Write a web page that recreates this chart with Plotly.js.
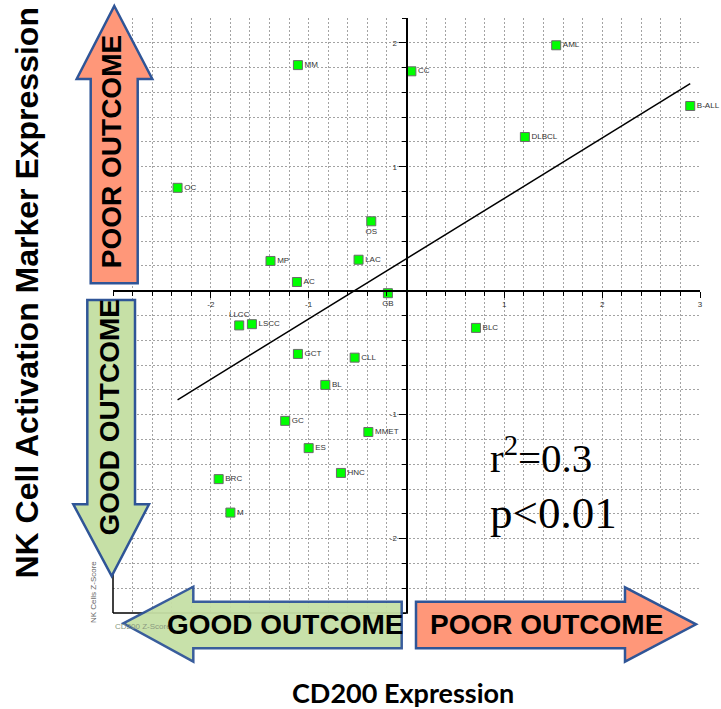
<!DOCTYPE html>
<html>
<head>
<meta charset="utf-8">
<script src="https://cdn.plot.ly/plotly-3.0.1.min.js"></script>
<style>html,body{margin:0;padding:0;background:#fff;}#chart{width:721px;height:709px;}</style>
</head>
<body>
<div id="chart"></div>
<script>
// ---- data ----
const categories = ['MM','CC','OC','OS','MP','LAC','AC','GB','AML','B-ALL','DLBCL','LLCC','LSCC','GCT','CLL','BL','GC','MMET','ES','HNC','BRC','M','BLC'];
const cd200Z = [-1.11, 0.05, -2.34, -0.36, -1.39, -0.49, -1.12, -0.19, 1.53, 2.90, 1.21, -1.71, -1.58, -1.11, -0.53, -0.83, -1.24, -0.39, -1.00, -0.67, -1.92, -1.80, 0.71];
const nkZ    = [1.82, 1.77, 0.83, 0.56, 0.24, 0.25, 0.07, -0.02, 1.98, 1.49, 1.24, -0.28, -0.27, -0.51, -0.54, -0.76, -1.05, -1.14, -1.27, -1.47, -1.52, -1.79, -0.30];
const labelPos = ['middle right','middle right','middle right','bottom center','middle right','middle right','middle right','bottom center','middle right','middle right','middle right','top center','middle right','middle right','middle right','middle right','middle right','middle right','middle right','middle right','middle right','middle right','middle right'];
const fitX = [-2.34, 2.90];
const fitY = [-0.88, 1.67];
const xTickVals = [-2, -1, 1, 2, 3];
const xTickText = ['-2', '-1', '1', '2', '3'];
const yTickVals = [-2, -1, 1, 2];
const yTickText = ['-2', '-1', '1', '2'];
const xRange = [-3, 3];
const yRange = [-2.6, 2.2];

// ---- layout geometry (pixels) ----
const W = 721, Hh = 709;
const L = 113, R = 21, T = 18, B = 96;
const PW = W - L - R, PH = Hh - T - B;
const px = x => (x - L) / PW;
const py = y => (T + PH - y) / PH;
const path = pts => pts.map((p, i) => (i ? 'L' : 'M') + px(p[0]).toFixed(5) + ',' + py(p[1]).toFixed(5)).join(' ') + ' Z';

const orange = '#FF9779', green = '#C6E0A6', stroke = '#2F5597';

const upArrow = [[114.3,6],[152.3,79],[137.7,79],[137.7,283.3],[90.7,283.3],[90.7,79],[76.7,79]];
const downArrow = [[87.3,300],[135,300],[135,504.3],[149,504.3],[111.7,576],[73.3,504.3],[87.3,504.3]];
const leftArrow = [[123.3,623.3],[193.3,586.7],[193.3,601.7],[401.7,601.7],[401.7,648.3],[193.3,648.3],[193.3,661.7]];
const rightArrow = [[416,601.7],[625,601.7],[625,587.3],[696,624.3],[625,661.7],[625,648.3],[416,648.3]];

const xFree = (0 - yRange[0]) / (yRange[1] - yRange[0]);
const yFree = (0 - xRange[0]) / (xRange[1] - xRange[0]);

const traces = [
  {
    x: fitX, y: fitY, mode: 'lines', type: 'scatter',
    line: {color: '#000', width: 1.5}, hoverinfo: 'skip', showlegend: false
  },
  {
    x: cd200Z, y: nkZ, text: categories, mode: 'markers+text', type: 'scatter',
    textposition: labelPos, cliponaxis: false,
    textfont: {family: 'Liberation Sans, Arial, sans-serif', size: 8, color: '#333'},
    marker: {symbol: 'square', size: 9, color: '#00FF00', line: {color: '#6b6b6b', width: 1}},
    showlegend: false
  }
];

const minorCommon = {tickmode: 'linear', tick0: 0, dtick: 0.2, ticks: 'outside', ticklen: 4, tickcolor: '#000', showgrid: true, gridcolor: '#a3a3a3', griddash: '2px,2px', gridwidth: 1};

const layout = {
  width: W, height: Hh,
  margin: {l: L, r: R, t: T, b: B, pad: 0},
  paper_bgcolor: '#fff', plot_bgcolor: '#fff',
  showlegend: false,
  font: {family: 'Liberation Sans, Arial, sans-serif', size: 8, color: '#333'},
  xaxis: {
    range: xRange, anchor: 'free', position: xFree,
    tickmode: 'array', tickvals: xTickVals, ticktext: xTickText,
    ticks: 'outside', ticklen: 6, tickwidth: 1, tickcolor: '#000',
    showline: true, linecolor: '#000', linewidth: 2, zeroline: false,
    showgrid: true, gridcolor: '#a3a3a3', gridwidth: 1, griddash: '2px,2px',
    tickfont: {size: 8, color: '#333'},
    minor: minorCommon
  },
  yaxis: {
    range: yRange, anchor: 'free', position: yFree,
    tickmode: 'array', tickvals: yTickVals, ticktext: yTickText,
    ticks: 'outside', ticklen: 7, tickwidth: 1, tickcolor: '#000',
    showline: true, linecolor: '#000', linewidth: 2, zeroline: false,
    showgrid: true, gridcolor: '#a3a3a3', gridwidth: 1, griddash: '2px,2px',
    tickfont: {size: 8, color: '#333'},
    minor: minorCommon
  },
  shapes: [
    {type: 'line', xref: 'paper', yref: 'paper', x0: px(113), y0: py(533), x1: px(113), y1: py(613), line: {color: '#000', width: 1.5}},
    {type: 'line', xref: 'paper', yref: 'paper', x0: px(113), y0: py(613), x1: px(408), y1: py(613), line: {color: '#000', width: 1.5}},
    {type: 'path', xref: 'paper', yref: 'paper', path: path(upArrow), fillcolor: orange, line: {color: stroke, width: 2.5}, layer: 'above'},
    {type: 'path', xref: 'paper', yref: 'paper', path: path(downArrow), fillcolor: green, line: {color: stroke, width: 2.5}, layer: 'above'},
    {type: 'path', xref: 'paper', yref: 'paper', path: path(leftArrow), fillcolor: green, line: {color: stroke, width: 2.5}, layer: 'above', opacity: 0.95},
    {type: 'path', xref: 'paper', yref: 'paper', path: path(rightArrow), fillcolor: orange, line: {color: stroke, width: 2.5}, layer: 'above'}
  ],
  annotations: [
    {xref: 'paper', yref: 'paper', x: px(26.5), y: py(293), text: '<b>NK Cell Activation Marker Expression</b>', textangle: -90, showarrow: false, xanchor: 'center', yanchor: 'middle', font: {family: 'Liberation Sans, Arial, sans-serif', size: 32, color: '#000'}},
    {xref: 'paper', yref: 'paper', x: px(403), y: py(692), text: '<b>CD200 Expression</b>', showarrow: false, xanchor: 'center', yanchor: 'middle', font: {family: 'Lato, Open Sans, sans-serif', size: 27, color: '#000'}},
    {xref: 'paper', yref: 'paper', x: px(93), y: py(592), text: 'NK Cells Z-Score', textangle: -90, showarrow: false, xanchor: 'center', yanchor: 'middle', font: {size: 8, color: '#666'}},
    {xref: 'paper', yref: 'paper', x: px(143), y: py(626), text: 'CD200 Z-Score', showarrow: false, xanchor: 'center', yanchor: 'middle', font: {size: 8, color: '#8a9a80'}},
    {xref: 'paper', yref: 'paper', x: px(111.2), y: py(152), text: '<b>POOR OUTCOME</b>', textangle: -90, showarrow: false, xanchor: 'center', yanchor: 'middle', font: {family: 'Liberation Sans, Arial, sans-serif', size: 28, color: '#000'}},
    {xref: 'paper', yref: 'paper', x: px(108.5), y: py(418), text: '<b>GOOD OUTCOME</b>', textangle: -90, showarrow: false, xanchor: 'center', yanchor: 'middle', font: {family: 'Liberation Sans, Arial, sans-serif', size: 28, color: '#000'}},
    {xref: 'paper', yref: 'paper', x: px(285), y: py(624), text: '<b>GOOD OUTCOME</b>', showarrow: false, xanchor: 'center', yanchor: 'middle', font: {family: 'Liberation Sans, Arial, sans-serif', size: 28, color: '#000'}},
    {xref: 'paper', yref: 'paper', x: px(546), y: py(624), text: '<b>POOR OUTCOME</b>', showarrow: false, xanchor: 'center', yanchor: 'middle', font: {family: 'Liberation Sans, Arial, sans-serif', size: 28, color: '#000'}},
    {xref: 'paper', yref: 'paper', x: px(488), y: py(455), text: 'r<sup>2</sup>=0.3', showarrow: false, xanchor: 'left', yanchor: 'middle', font: {family: 'Liberation Serif, Times New Roman, serif', size: 41, color: '#000'}},
    {xref: 'paper', yref: 'paper', x: px(488), y: py(513), text: 'p&lt;0.01', showarrow: false, xanchor: 'left', yanchor: 'middle', font: {family: 'Liberation Serif, Times New Roman, serif', size: 45, color: '#000'}}
  ]
};

Plotly.newPlot('chart', traces, layout, {staticPlot: true, displayModeBar: false});
</script>
</body>
</html>
